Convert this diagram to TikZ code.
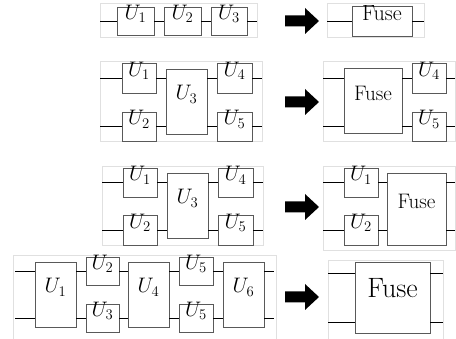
\RequirePackage{fix-cm}
\documentclass[tikz,border=0pt]{standalone}
\usetikzlibrary{fit}
\begin{document}
\begin{tikzpicture}[x=1pt,y=-1pt,
  box/.style={draw=black!65, line width=0.8pt, fill=white, inner sep=0pt,
    font=\fontsize{21}{24}\selectfont},
  fusebox/.style={box, font=\fontsize{21}{24}\selectfont},
  fuseone/.style={box, font=\fontsize{22}{26}\selectfont},
  bigbox/.style={box, font=\fontsize{28}{32}\selectfont},
  wire/.style={line width=0.7pt, draw=black},
  frame/.style={draw=black!12, line width=0.6pt}]
\useasboundingbox (0,0) rectangle (456,339);
\newcommand{\blockarrow}[1]{\fill[black, shift={(0,#1)}] (285,-5.5) -- (305,-5.5) -- (305,-13) -- (319,0) -- (305,13) -- (305,5.5) -- (285,5.5) -- cycle;}

% ---------- Row 1 ----------
\draw[frame] (100,3) rectangle (257,37);
\coordinate (r1a) at (100,21);
\coordinate (r1b) at (257,21);
\node[box, fit={(117,7)(154,35)}] (a1) {$U_1$};
\node[box, fit={(164,7)(201,35)}] (a2) {$U_2$};
\node[box, fit={(211,7)(247,35)}] (a3) {$U_3$};
\draw[wire] (r1a) -- (a1.west) (a1.east) -- (a2.west) (a2.east) -- (a3.west) (a3.east) -- (r1b);
\blockarrow{21}
\draw[frame] (327,3) rectangle (424,37);
\coordinate (r1c) at (327,21);
\coordinate (r1d) at (424,21);
\node[fuseone, fit={(352,6)(412,36)}] (af) {Fuse};
\draw[wire] (r1c) -- (af.west) (af.east) -- (r1d);

% ---------- Row 2 ----------
\draw[frame] (100,61) rectangle (262,141);
\coordinate (r2a) at (100,78);
\coordinate (r2b) at (100,126.5);
\coordinate (r2c) at (262,78);
\coordinate (r2d) at (262,126.5);
\node[box, fit={(122,63)(156,93)}] (b1) {$U_1$};
\node[box, fit={(122,112)(156,141)}] (b2) {$U_2$};
\node[box, fit={(166,69)(207,134)}] (b3) {$U_3$};
\node[box, fit={(217,63)(252,93)}] (b4) {$U_4$};
\node[box, fit={(217,112)(252,141)}] (b5) {$U_5$};
\draw[wire] (r2a) -- (b1.west) (b1.east) -- (b1.east -| b3.west)
  (r2b) -- (b2.west) (b2.east) -- (b2.east -| b3.west)
  (b4.west -| b3.east) -- (b4.west) (b4.east) -- (r2c)
  (b5.west -| b3.east) -- (b5.west) (b5.east) -- (r2d);
\blockarrow{102}
\draw[frame] (323,61) rectangle (455,141);
\coordinate (r2e) at (323,78);
\coordinate (r2f) at (323,126.5);
\coordinate (r2g) at (455,78);
\coordinate (r2h) at (455,126.5);
\node[fusebox, fit={(344,68)(402,133)}] (bf) {Fuse};
\node[box, fit={(412,63)(446,93)}] (c4) {$U_4$};
\node[box, fit={(412,112)(446,141)}] (c5) {$U_5$};
\draw[wire] (r2e) -- (r2e -| bf.west) (r2f) -- (r2f -| bf.west)
  (c4.west -| bf.east) -- (c4.west) (c4.east) -- (r2g)
  (c5.west -| bf.east) -- (c5.west) (c5.east) -- (r2h);

% ---------- Row 3 ----------
\draw[frame] (102,166) rectangle (263,245);
\coordinate (r3a) at (102,182.5);
\coordinate (r3b) at (102,230);
\coordinate (r3c) at (263,182.5);
\coordinate (r3d) at (263,230);
\node[box, fit={(123,168)(157,197)}] (d1) {$U_1$};
\node[box, fit={(123,215)(157,245)}] (d2) {$U_2$};
\node[box, fit={(167,173)(208,238)}] (d3) {$U_3$};
\node[box, fit={(218,168)(253,197)}] (d4) {$U_4$};
\node[box, fit={(218,215)(253,245)}] (d5) {$U_5$};
\draw[wire] (r3a) -- (d1.west) (d1.east) -- (d1.east -| d3.west)
  (r3b) -- (d2.west) (d2.east) -- (d2.east -| d3.west)
  (d4.west -| d3.east) -- (d4.west) (d4.east) -- (r3c)
  (d5.west -| d3.east) -- (d5.west) (d5.east) -- (r3d);
\blockarrow{207}
\draw[frame] (323,166) rectangle (455,250);
\coordinate (r3e) at (323,182.5);
\coordinate (r3f) at (323,230);
\coordinate (r3g) at (455,182.5);
\coordinate (r3h) at (455,230);
\node[box, fit={(344,168)(378,197)}] (e1) {$U_1$};
\node[box, fit={(344,215)(378,245)}] (e2) {$U_2$};
\node[fusebox, fit={(387,173)(446,245)}] (ef) {Fuse};
\draw[wire] (r3e) -- (e1.west) (e1.east) -- (e1.east -| ef.west)
  (r3f) -- (e2.west) (e2.east) -- (e2.east -| ef.west)
  (r3g -| ef.east) -- (r3g) (r3h -| ef.east) -- (r3h);

% ---------- Row 4 ----------
\draw[frame] (13,339) -- (13,255) -- (276,255) -- (276,339);
\coordinate (r4a) at (15,271);
\coordinate (r4b) at (15,318);
\coordinate (r4c) at (274,271);
\coordinate (r4d) at (274,318);
\node[box, fit={(35,262)(76,327)}] (g1) {$U_1$};
\node[box, fit={(86,257)(119,285)}] (g2) {$U_2$};
\node[box, fit={(86,304)(119,332)}] (g3) {$U_3$};
\node[box, fit={(128,262)(169,327)}] (g4) {$U_4$};
\node[box, fit={(179,257)(213,285)}] (g5) {$U_5$};
\node[box, fit={(179,304)(213,332)}] (g6) {$U_5$};
\node[box, fit={(223,262)(264,327)}] (g7) {$U_6$};
\draw[wire] (r4a) -- (r4a -| g1.west) (r4b) -- (r4b -| g1.west)
  (r4a -| g1.east) -- (r4a -| g2.west) (r4b -| g1.east) -- (r4b -| g3.west)
  (r4a -| g2.east) -- (r4a -| g4.west) (r4b -| g3.east) -- (r4b -| g4.west)
  (r4a -| g4.east) -- (r4a -| g5.west) (r4b -| g4.east) -- (r4b -| g6.west)
  (r4a -| g5.east) -- (r4a -| g7.west) (r4b -| g6.east) -- (r4b -| g7.west)
  (r4a -| g7.east) -- (r4c) (r4b -| g7.east) -- (r4d);
\blockarrow{297}
\draw[frame] (328,339) -- (328,260) -- (443,260) -- (443,339);
\coordinate (r4e) at (328,273);
\coordinate (r4f) at (328,322);
\coordinate (r4g) at (443,273);
\coordinate (r4h) at (443,322);
\node[bigbox, fit={(355,262)(430,333)}] (hf) {Fuse};
\draw[wire] (r4e) -- (r4e -| hf.west) (r4f) -- (r4f -| hf.west)
  (r4g -| hf.east) -- (r4g) (r4h -| hf.east) -- (r4h);
\end{tikzpicture}
\end{document}
